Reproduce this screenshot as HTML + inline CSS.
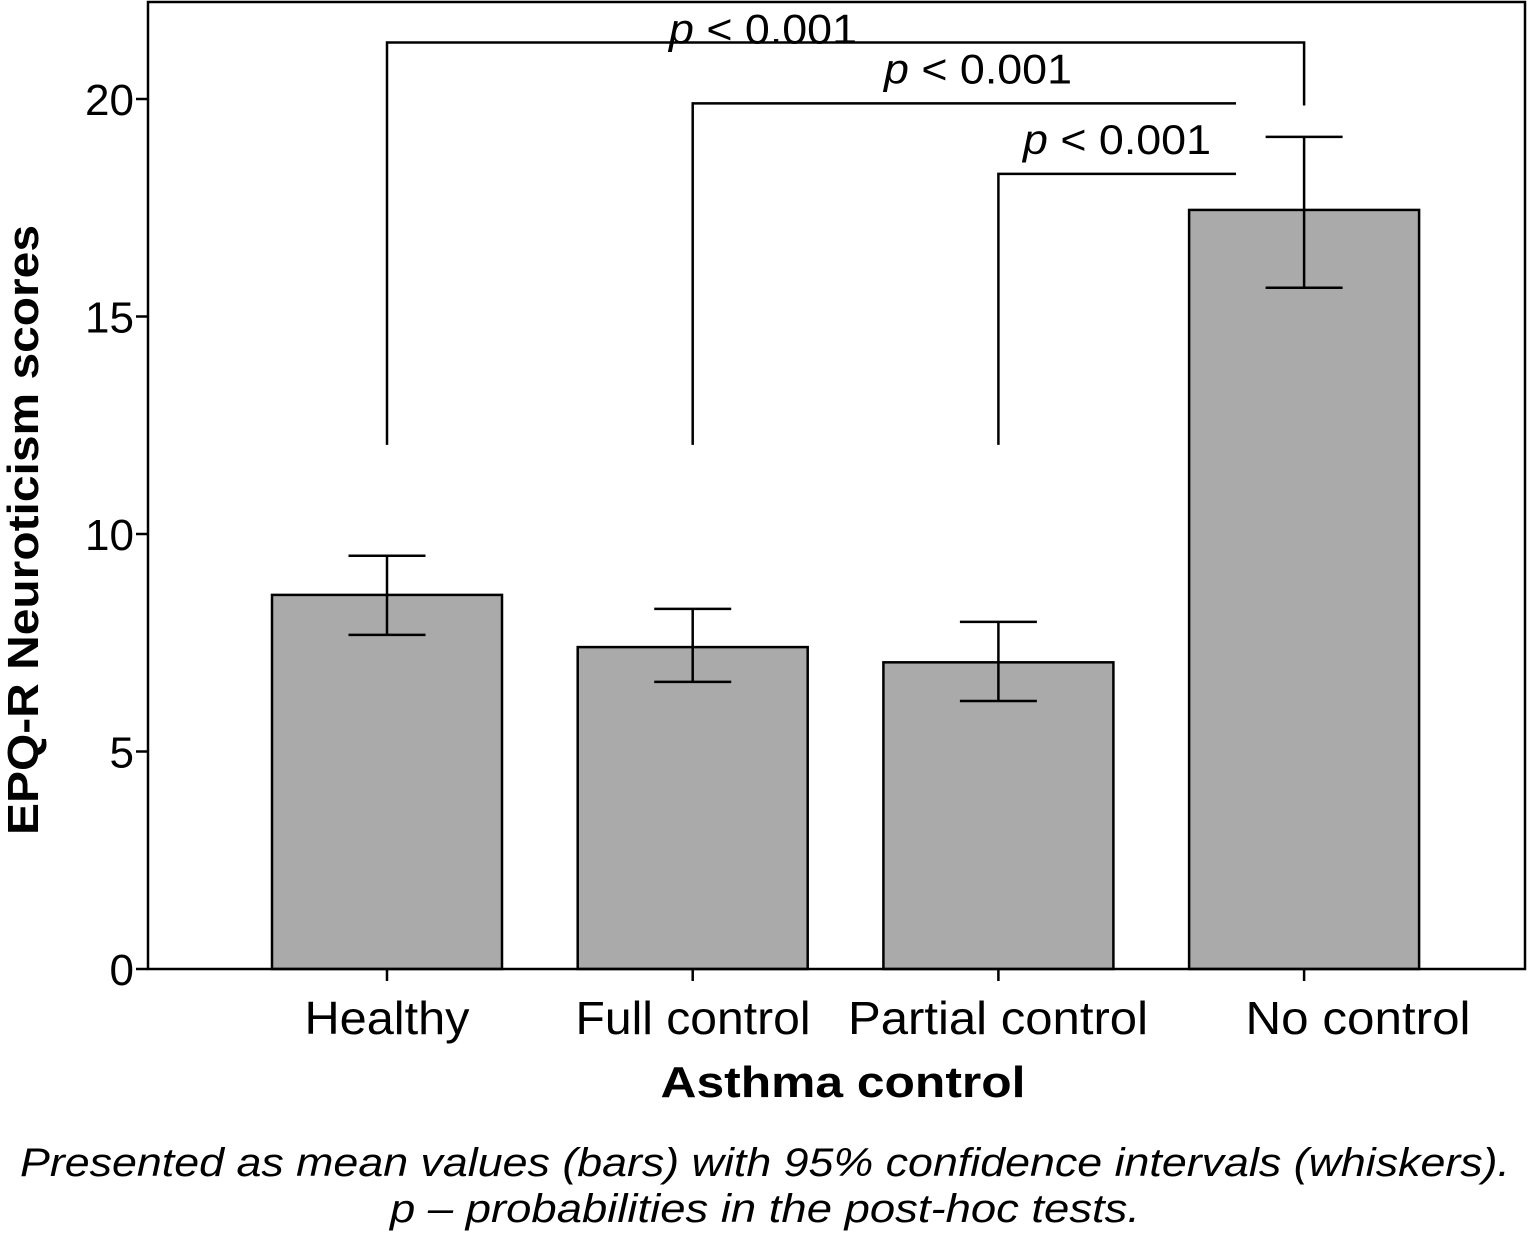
<!DOCTYPE html>
<html><head><meta charset="utf-8"><style>
html,body{margin:0;padding:0;background:#fff;}
svg{display:block;font-family:"Liberation Sans",sans-serif;}
</style></head><body>
<svg id="chart" width="1529" height="1236" viewBox="0 0 1529 1236">
<g id="bars"></g>
<g id="brackets"></g>
<rect x="148" y="2" width="1377" height="967" fill="none" stroke="#000" stroke-width="2.5"/>
<g id="axes"></g>
<text x="843" y="1097" text-anchor="middle" font-size="44" font-weight="bold" textLength="365" lengthAdjust="spacingAndGlyphs">Asthma control</text>
<text transform="translate(38,530) rotate(-90)" text-anchor="middle" font-size="44" font-weight="bold" textLength="610" lengthAdjust="spacingAndGlyphs">EPQ-R Neuroticism scores</text>
<text x="765" y="1176" text-anchor="middle" font-size="40" font-style="italic" textLength="1490" lengthAdjust="spacingAndGlyphs">Presented as mean values (bars) with 95% confidence intervals (whiskers).</text>
<text x="765" y="1222" text-anchor="middle" font-size="40" font-style="italic" textLength="750" lengthAdjust="spacingAndGlyphs">p – probabilities in the post-hoc tests.</text>
</svg>
<script>
const categories = ["Healthy","Full control","Partial control","No control"];
const means = [8.6, 7.4, 7.05, 17.45];
const ciUpper = [9.5, 8.28, 7.98, 19.13];
const ciLower = [7.68, 6.6, 6.16, 15.66];
const yTicks = [0,5,10,15,20];
const comparisons = [[0,3],[1,3],[2,3]];
const compLabels = ["p < 0.001","p < 0.001","p < 0.001"];
const compHeights = [21.3, 19.9, 18.28];
const compBase = 12.05;

const NS="http://www.w3.org/2000/svg";
const y0=969, unit=43.5;
function yS(v){return y0 - v*unit;}
function xS(i){return 387 + i*305.7;}
function mk(tag,attrs,parent,text){const e=document.createElementNS(NS,tag);for(const k in attrs)e.setAttribute(k,attrs[k]);if(text!==undefined)e.textContent=text;parent.appendChild(e);return e;}
const bars=document.getElementById('bars'), axes=document.getElementById('axes'), br=document.getElementById('brackets');
const bw=230, cap=77;
const labelW=[165,235,300,225];
const labelX=[387,693,998,1358];
categories.forEach((c,i)=>{
  const cx=xS(i);
  const r=mk('rect',{x:cx-bw/2,y:yS(means[i]),width:bw,height:yS(0)-yS(means[i]),fill:"#aaaaaa",stroke:"#000","stroke-width":2.5},bars);
  
  
  const g=mk('g',{stroke:"#000","stroke-width":2.5},bars);
  
  
  mk('line',{x1:cx,x2:cx,y1:yS(ciUpper[i]),y2:yS(ciLower[i])},g);
  mk('line',{x1:cx-cap/2,x2:cx+cap/2,y1:yS(ciUpper[i]),y2:yS(ciUpper[i])},g);
  mk('line',{x1:cx-cap/2,x2:cx+cap/2,y1:yS(ciLower[i]),y2:yS(ciLower[i])},g);
  const t=mk('line',{x1:cx,x2:cx,y1:y0,y2:y0+12,stroke:"#000","stroke-width":2.5},axes);
  
  
  const l=mk('text',{x:labelX[i],y:1034,"text-anchor":"middle","font-size":46,textLength:labelW[i],lengthAdjust:"spacingAndGlyphs"},axes,c);
  
  
});
yTicks.forEach(v=>{
  const t=mk('line',{x1:136,x2:148,y1:yS(v),y2:yS(v),stroke:"#000","stroke-width":2.5},axes);
  
  
  const l=mk('text',{x:134,y:yS(v)+16,"text-anchor":"end","font-size":44},axes,String(v));
  
  
});
comparisons.forEach((p,k)=>{
  const xa=xS(p[0]);
  const xb = k===0 ? xS(p[1]) : 1236;
  const yt=yS(compHeights[k]);
  let d='M'+xa+','+yS(compBase)+' V'+yt+' H'+xb;
  if(k===0) d+=' V'+yS(19.85);
  const path=mk('path',{d:d,fill:"none",stroke:"#000","stroke-width":2.5},br);
  
  
  const lx = k===0 ? 763 : (k===1 ? 978 : 1117);
  const ly = k===0 ? yt+1 : yt-20;
  const tx=mk('text',{x:lx,y:ly,"text-anchor":"middle","font-size":42,textLength:188,lengthAdjust:"spacingAndGlyphs"},br);
  
  
  mk('tspan',{"font-style":"italic"},tx,"p");
  mk('tspan',{},tx,compLabels[k].slice(1));
});
</script>
</body></html>
